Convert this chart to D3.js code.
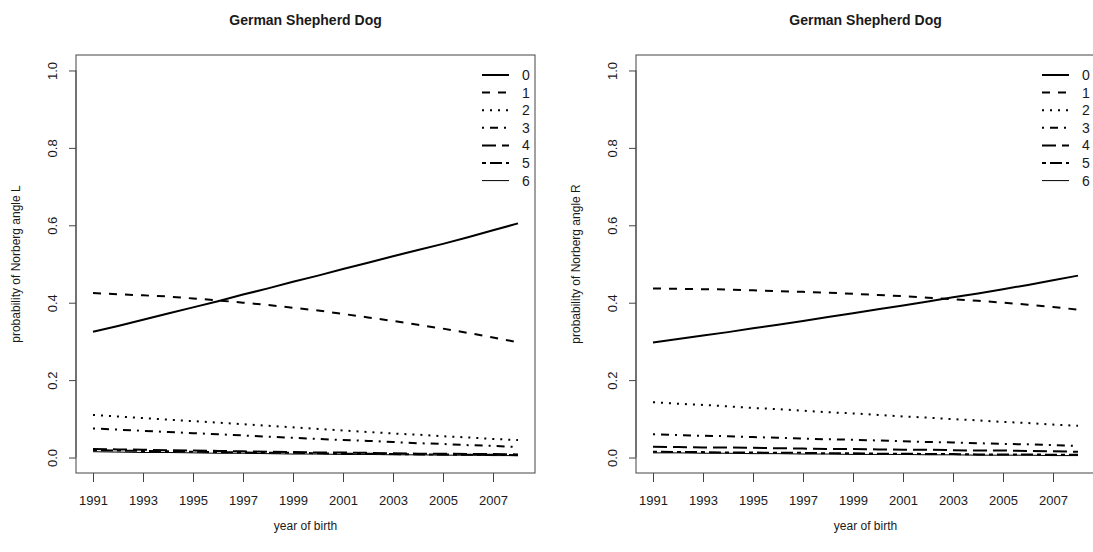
<!DOCTYPE html>
<html>
<head>
<meta charset="utf-8">
<script src="https://cdn.jsdelivr.net/npm/d3@7"></script>
<style>
  html, body { margin: 0; padding: 0; background: #fff; }
  svg { display: block; font-family: "Liberation Sans", Arial, sans-serif; }
</style>
</head>
<body>
<svg id="chart" width="1093" height="552"></svg>
<script>
// Birth years and predicted probabilities for each Norberg angle class (0–6)
const years = d3.range(1991, 2009);
const classes = ["0", "1", "2", "3", "4", "5", "6"];
const xTickYears = [1991, 1993, 1995, 1997, 1999, 2001, 2003, 2005, 2007];
const yTicks = [0, 0.2, 0.4, 0.6, 0.8, 1.0];
const chartTitle = "German Shepherd Dog";
const xTitle = "year of birth";
const yTitleL = "probability of Norberg angle L";
const yTitleR = "probability of Norberg angle R";

// Left hip
const left0 = [0.325, 0.340, 0.356, 0.372, 0.388, 0.404, 0.421, 0.437, 0.454, 0.470, 0.487, 0.503, 0.520, 0.536, 0.552, 0.569, 0.587, 0.605];
const left1 = [0.425, 0.422, 0.419, 0.416, 0.411, 0.406, 0.400, 0.394, 0.387, 0.380, 0.371, 0.362, 0.353, 0.343, 0.333, 0.322, 0.310, 0.298];
const left2 = [0.110, 0.106, 0.102, 0.098, 0.094, 0.090, 0.086, 0.082, 0.078, 0.074, 0.070, 0.066, 0.062, 0.059, 0.055, 0.052, 0.048, 0.045];
const left3 = [0.075, 0.072, 0.069, 0.066, 0.063, 0.060, 0.057, 0.054, 0.051, 0.048, 0.045, 0.043, 0.040, 0.037, 0.035, 0.032, 0.030, 0.027];
const left4 = [0.022, 0.021, 0.020, 0.019, 0.018, 0.017, 0.016, 0.015, 0.014, 0.013, 0.013, 0.012, 0.011, 0.010, 0.010, 0.009, 0.009, 0.008];
const left5 = [0.019, 0.018, 0.017, 0.016, 0.015, 0.014, 0.013, 0.012, 0.012, 0.011, 0.010, 0.010, 0.009, 0.008, 0.008, 0.007, 0.007, 0.006];
const left6 = [0.015, 0.014, 0.013, 0.013, 0.012, 0.011, 0.011, 0.010, 0.009, 0.009, 0.008, 0.008, 0.007, 0.007, 0.006, 0.006, 0.005, 0.005];

// Right hip
const right0 = [0.297, 0.306, 0.315, 0.324, 0.334, 0.343, 0.353, 0.363, 0.373, 0.383, 0.393, 0.403, 0.414, 0.424, 0.435, 0.446, 0.458, 0.470];
const right1 = [0.437, 0.436, 0.435, 0.434, 0.432, 0.430, 0.428, 0.426, 0.423, 0.420, 0.417, 0.413, 0.409, 0.405, 0.400, 0.395, 0.389, 0.382];
const right2 = [0.143, 0.139, 0.136, 0.132, 0.128, 0.125, 0.121, 0.117, 0.114, 0.110, 0.106, 0.103, 0.099, 0.096, 0.092, 0.089, 0.085, 0.082];
const right3 = [0.060, 0.058, 0.056, 0.055, 0.053, 0.051, 0.049, 0.047, 0.046, 0.044, 0.042, 0.040, 0.039, 0.037, 0.035, 0.034, 0.032, 0.030];
const right4 = [0.028, 0.027, 0.026, 0.026, 0.025, 0.024, 0.023, 0.022, 0.022, 0.021, 0.020, 0.020, 0.019, 0.018, 0.018, 0.017, 0.016, 0.015];
const right5 = [0.015, 0.014, 0.014, 0.013, 0.013, 0.012, 0.012, 0.011, 0.011, 0.010, 0.010, 0.009, 0.009, 0.008, 0.008, 0.008, 0.007, 0.007];
const right6 = [0.012, 0.012, 0.011, 0.011, 0.010, 0.010, 0.009, 0.009, 0.008, 0.008, 0.008, 0.007, 0.007, 0.006, 0.006, 0.006, 0.005, 0.005];

const leftSeries = [left0, left1, left2, left3, left4, left5, left6];
const rightSeries = [right0, right1, right2, right3, right4, right5, right6];

// R-style line types (lty 1..6, then a thin solid), dash lengths scaled by line width
const lineStyles = [
  { dash: null,          width: 2 },
  { dash: "8,8",         width: 2 },
  { dash: "2,6",         width: 2 },
  { dash: "2,6,8,6",     width: 2 },
  { dash: "14,6",        width: 2 },
  { dash: "4,4,12,4",    width: 2 },
  { dash: null,          width: 1 }
];

const svg = d3.select("#chart");
const ink = "#1a1a1a";
const frame = "#444";
const fontFam = "Liberation Sans, Arial, sans-serif";

function panel(offsetX, series, yTitle) {
  const box = { left: 76, right: 535, top: 55, bottom: 473 };
  const g = svg.append("g").attr("transform", `translate(${offsetX},0)`);

  // R's default 4% padding on both axes
  const xPad = (d3.max(years) - d3.min(years)) * 0.04;
  const x = d3.scaleLinear()
    .domain([d3.min(years) - xPad, d3.max(years) + xPad])
    .range([box.left, box.right]);
  const y = d3.scaleLinear()
    .domain([-0.04, 1.04])
    .range([box.bottom, box.top]);

  // plot frame
  g.append("rect")
    .attr("x", box.left).attr("y", box.top)
    .attr("width", box.right - box.left).attr("height", box.bottom - box.top)
    .attr("fill", "none").attr("stroke", frame).attr("stroke-width", 1);

  // x axis
  const xAxis = g.append("g")
    .attr("transform", `translate(0,${box.bottom})`)
    .call(d3.axisBottom(x).tickValues(xTickYears).tickFormat(d3.format("d"))
      .tickSize(9).tickPadding(14));
  xAxis.select(".domain").remove();
  xAxis.selectAll(".tick line").attr("stroke", frame);
  xAxis.selectAll(".tick text")
    .attr("fill", ink).attr("font-size", 13)
    .attr("font-family", fontFam);

  // y axis with R-style rotated labels
  const yAxis = g.append("g")
    .attr("transform", `translate(${box.left},0)`)
    .call(d3.axisLeft(y).tickValues(yTicks).tickFormat(d3.format(".1f"))
      .tickSize(7).tickPadding(0));
  yAxis.select(".domain")
    .attr("d", `M0,${y(0)}V${y(1)}`).attr("stroke", frame);
  yAxis.selectAll(".tick line").attr("stroke", frame);
  yAxis.selectAll(".tick text")
    .attr("fill", ink).attr("font-size", 13)
    .attr("font-family", fontFam)
    .attr("text-anchor", "middle")
    .attr("x", null).attr("dy", null)
    .attr("transform", "translate(-19,0) rotate(-90)");

  // data lines
  const line = d3.line()
    .x((d, i) => x(years[i]))
    .y(d => y(d));
  series.forEach((vals, k) => {
    const st = lineStyles[k];
    g.append("path")
      .datum(vals)
      .attr("d", line)
      .attr("fill", "none")
      .attr("stroke", "#000")
      .attr("stroke-width", st.width)
      .attr("stroke-dasharray", st.dash)
      .attr("stroke-linejoin", "round");
  });

  // legend (top right, no box)
  const legend = g.append("g");
  const rowH = 17.6;
  classes.forEach((c, k) => {
    const st = lineStyles[k];
    const ly = 75 + k * rowH;
    legend.append("line")
      .attr("x1", box.right - 53).attr("x2", box.right - 26)
      .attr("y1", ly).attr("y2", ly)
      .attr("stroke", "#000")
      .attr("stroke-width", st.width)
      .attr("stroke-dasharray", st.dash);
    legend.append("text")
      .attr("x", box.right - 13).attr("y", ly)
      .attr("dy", "0.36em")
      .attr("font-size", 14)
      .attr("fill", ink)
      .text(c);
  });

  // titles
  const cx = (box.left + box.right) / 2;
  g.append("text")
    .attr("x", cx).attr("y", 25)
    .attr("text-anchor", "middle")
    .attr("font-size", 14).attr("font-weight", "bold")
    .attr("fill", ink)
    .text(chartTitle);
  g.append("text")
    .attr("x", cx).attr("y", 530)
    .attr("text-anchor", "middle")
    .attr("font-size", 12)
    .attr("fill", ink)
    .text(xTitle);
  g.append("text")
    .attr("transform", `translate(20,${(box.top + box.bottom) / 2}) rotate(-90)`)
    .attr("text-anchor", "middle")
    .attr("font-size", 12)
    .attr("fill", ink)
    .text(yTitle);
}

panel(0, leftSeries, yTitleL);
panel(560, rightSeries, yTitleR);
</script>
</body>
</html>
